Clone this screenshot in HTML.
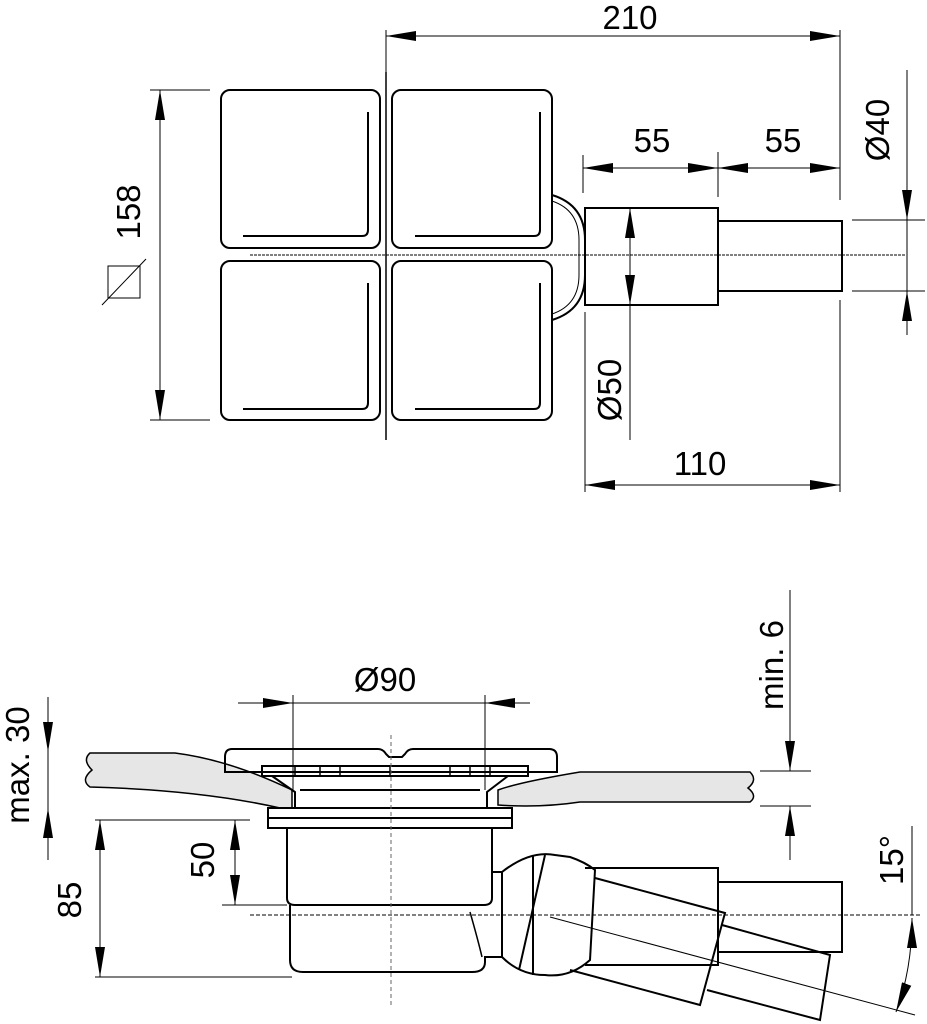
<!DOCTYPE html>
<html><head><meta charset="utf-8"><style>
html,body{margin:0;padding:0;background:#fff}
svg{display:block}
text{font-family:"Liberation Sans",sans-serif;font-size:33px;fill:#000}
</style></head><body>
<svg width="927" height="1024" viewBox="0 0 927 1024" xmlns="http://www.w3.org/2000/svg">
<defs>
<marker id="a" viewBox="0 0 30 10" refX="30" refY="5" markerWidth="30" markerHeight="10" markerUnits="userSpaceOnUse" orient="auto-start-reverse"><path d="M0,0L30,5L0,10z" fill="#000"/></marker>
</defs>
<g fill="none" stroke="#000" stroke-width="2">
<rect x="221" y="90" width="159" height="158" rx="9"/>
<rect x="392" y="90" width="160" height="158" rx="9"/>
<rect x="221" y="261" width="159" height="159" rx="9"/>
<rect x="392" y="261" width="160" height="159" rx="9"/>
<path d="M243,236H362Q368,236 368,230V112M415,236H534Q540,236 540,230V112M243,409H362Q368,409 368,403V283M415,409H534Q540,409 540,403V283"/>
<path d="M552,195Q585,205 585,240V275Q585,310 552,320"/>
<path d="M552,201Q579,210 579,240V275Q579,305 552,314" stroke-width="1"/>
<rect x="585" y="208" width="133" height="97"/>
<rect x="718" y="221" width="124" height="70"/>
</g>
<g fill="none" stroke="#000" stroke-width="1">
<line x1="386" y1="72" x2="386" y2="440" stroke-width="1.5"/>
<line x1="250" y1="255" x2="905" y2="255" stroke-dasharray="3,1"/>
<line x1="386" y1="30" x2="386" y2="72"/>
<line x1="840" y1="30" x2="840" y2="200"/>
<line x1="386" y1="36" x2="840" y2="36" marker-start="url(#a)" marker-end="url(#a)"/>
<line x1="583" y1="155" x2="583" y2="193"/>
<line x1="718" y1="152" x2="718" y2="197"/>
<line x1="583" y1="168" x2="718" y2="168" marker-start="url(#a)" marker-end="url(#a)"/>
<line x1="718" y1="168" x2="840" y2="168" marker-start="url(#a)" marker-end="url(#a)"/>
<line x1="150" y1="90" x2="210" y2="90"/>
<line x1="150" y1="420" x2="210" y2="420"/>
<line x1="160" y1="90" x2="160" y2="420" marker-start="url(#a)" marker-end="url(#a)"/>
<rect x="108" y="266" width="32" height="32"/>
<line x1="102" y1="305" x2="146" y2="259"/>
<line x1="630" y1="208" x2="630" y2="305" marker-start="url(#a)" marker-end="url(#a)"/>
<line x1="630" y1="305" x2="630" y2="440"/>
<line x1="585" y1="312" x2="585" y2="492"/>
<line x1="840" y1="300" x2="840" y2="492"/>
<line x1="585" y1="485" x2="840" y2="485" marker-start="url(#a)" marker-end="url(#a)"/>
<line x1="852" y1="220" x2="925" y2="220"/>
<line x1="852" y1="291" x2="925" y2="291"/>
<line x1="907" y1="70" x2="907" y2="220" marker-end="url(#a)"/>
<line x1="907" y1="335" x2="907" y2="291" marker-end="url(#a)"/>
<line x1="907" y1="220" x2="907" y2="291"/>
</g>
<text x="630" y="29" text-anchor="middle">210</text>
<text x="652" y="152" text-anchor="middle">55</text>
<text x="783" y="152" text-anchor="middle">55</text>
<text x="700" y="475" text-anchor="middle">110</text>
<text transform="translate(140,212) rotate(-90)" text-anchor="middle">158</text>
<text transform="translate(621,390) rotate(-90)" text-anchor="middle">Ø50</text>
<text transform="translate(889,130) rotate(-90)" text-anchor="middle">Ø40</text>

<g stroke="#000" stroke-width="1.5" fill="#e6e6e6">
<path d="M90,753H175Q230,760 292,790L292,808H280Q200,790 90,787Q80,780 92,770Q82,760 90,753Z"/>
<path d="M498,790Q520,782 580,772H750Q758,780 748,788Q758,796 750,802H580Q540,808 498,805Z"/>
</g>
<g fill="none" stroke="#000" stroke-width="2">
<path d="M232,749H378Q383,749 386,754L389,757H402L405,754Q408,749 413,749H549Q557,749 557,757V772H225V757Q225,749 232,749Z"/>
<rect x="262" y="766" width="266" height="10"/>
<path d="M295,766V776M320,766V776M340,766V776M390,766V776M450,766V776M470,766V776M490,766V776" stroke-width="1.5"/>
<path d="M272,776L295,792V808M508,776L487,792V808"/>
<line x1="300" y1="790" x2="480" y2="790"/>
<rect x="268" y="808" width="244" height="20"/>
<line x1="268" y1="818" x2="512" y2="818"/>
<path d="M287,828V898Q287,905 295,905H484Q492,905 492,898V828"/>
<path d="M290,905V960Q290,972 303,972H472Q485,972 485,962V957H502"/>
<path d="M492,872H502V957"/>
<path d="M470,912Q478,940 482,957" stroke-width="1.5"/>
<path d="M502,872Q530,850 555,855L570,857Q585,862 595,870L590,960Q570,978 545,975Q520,975 502,957"/>
<path d="M533,855L533,975M545,855L519,970"/>
<path d="M585,868H718V965H585"/>
<rect x="718" y="882" width="124" height="70"/>
<path d="M595,878L725,913L700,1005L570,970"/>
<path d="M722,925L830,955L820,1020L707,990"/>
</g>
<g fill="none" stroke="#000" stroke-width="1">
<line x1="250" y1="915" x2="920" y2="915" stroke-dasharray="4,2"/>
<line x1="391" y1="735" x2="391" y2="1005" stroke-dasharray="4,3" stroke="#666"/>
<line x1="550" y1="917" x2="915" y2="1015"/>
<line x1="293" y1="695" x2="293" y2="790"/>
<line x1="485" y1="695" x2="485" y2="790"/>
<line x1="238" y1="703" x2="293" y2="703" marker-end="url(#a)"/>
<line x1="530" y1="703" x2="485" y2="703" marker-end="url(#a)"/>
<line x1="293" y1="703" x2="485" y2="703"/>
<line x1="48" y1="697" x2="48" y2="752" marker-end="url(#a)"/>
<line x1="48" y1="860" x2="48" y2="808" marker-end="url(#a)"/>
<line x1="48" y1="752" x2="48" y2="808"/>
<line x1="95" y1="820" x2="250" y2="820"/>
<line x1="95" y1="977" x2="292" y2="977"/>
<line x1="100" y1="820" x2="100" y2="977" marker-start="url(#a)" marker-end="url(#a)"/>
<line x1="222" y1="905" x2="287" y2="905"/>
<line x1="235" y1="820" x2="235" y2="905" marker-start="url(#a)" marker-end="url(#a)"/>
<line x1="760" y1="771" x2="811" y2="771"/>
<line x1="760" y1="806" x2="811" y2="806"/>
<line x1="790" y1="590" x2="790" y2="771" marker-end="url(#a)"/>
<line x1="790" y1="860" x2="790" y2="806" marker-end="url(#a)"/>
<line x1="912" y1="826" x2="912" y2="915"/>
<path d="M912,918Q912,970 896,1012" marker-start="url(#a)" marker-end="url(#a)"/>
</g>
<text x="385" y="691" text-anchor="middle">Ø90</text>
<text transform="translate(29,765) rotate(-90)" text-anchor="middle">max. 30</text>
<text transform="translate(81,900) rotate(-90)" text-anchor="middle">85</text>
<text transform="translate(214,860) rotate(-90)" text-anchor="middle">50</text>
<text transform="translate(783,665) rotate(-90)" text-anchor="middle">min. 6</text>
<text transform="translate(903,860) rotate(-90)" text-anchor="middle">15°</text>
</svg>
</body></html>
